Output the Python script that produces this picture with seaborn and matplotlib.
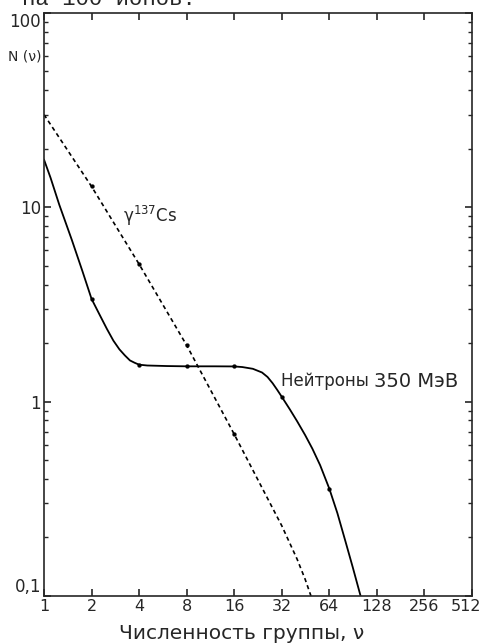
import numpy as np
import pandas as pd
import matplotlib
matplotlib.use('Agg')
import matplotlib.pyplot as plt
import matplotlib.transforms as mtrans
import seaborn as sns

### DATA ###

# neutrons 350 MeV (solid curve)
nu_n = [1, 1.1, 1.25, 1.5, 1.75, 2, 2.25, 2.5, 2.75, 3, 3.25, 3.5, 3.75, 4, 4.5, 6, 8, 12, 16,
	18, 21, 24, 26, 28, 30, 32, 36, 40, 45, 50, 56, 64, 72, 81, 90, 101]
N_n = [17.6, 14.2, 10.3, 6.8, 4.7, 3.38, 2.8, 2.37, 2.06, 1.86, 1.73, 1.63, 1.585, 1.55, 1.535, 1.525, 1.52, 1.52, 1.518,
	1.507, 1.476, 1.413, 1.34, 1.245, 1.148, 1.06, 0.913, 0.794, 0.673, 0.573, 0.471, 0.357, 0.267, 0.191, 0.141, 0.1]
pts_n = [2, 4, 8, 16, 32, 64]

# gamma 137Cs (dashed curve)
nu_g = [1, 2, 4, 8, 16, 32, 40, 45, 49]
N_g = [30, 12.8, 5.1, 1.95, 0.68, 0.23, 0.155, 0.122, 0.1]
pts_g = [2, 4, 8, 16]

x_ticks = [1, 2, 4, 8, 16, 32, 64, 128, 256, 512]
y_ticks = [0.1, 1, 10, 100]
y_labels = ['0,1', '1', '10', '100']

df_n = pd.DataFrame({'nu': nu_n, 'N': N_n})
df_g = pd.DataFrame({'nu': nu_g, 'N': N_g})

### PLOT ###

sns.set_style('ticks')
plt.rcParams['font.family'] = ['DejaVu Sans']

fig = plt.figure(figsize=(4.83, 6.43), dpi=100)
ax = fig.add_axes([0.0911, 0.0731, 0.886, 0.9067])

sns.lineplot(data=df_n, x='nu', y='N', ax=ax, color='black', lw=1.3)
sns.lineplot(data=df_g, x='nu', y='N', ax=ax, color='black', lw=1.2, linestyle=(0, (2.5, 2)))
sns.scatterplot(data=df_n[df_n['nu'].isin(pts_n)], x='nu', y='N', ax=ax, color='black', s=8, edgecolor=None)
sns.scatterplot(data=df_g[df_g['nu'].isin(pts_g)], x='nu', y='N', ax=ax, color='black', s=8, edgecolor=None)

ax.set_xscale('log', base=2)
ax.set_yscale('log')
ax.set_xlim(1, 512)
ax.set_ylim(0.1, 100)
ax.set_xticks(x_ticks)
ax.set_xticklabels([str(t) for t in x_ticks])
ax.xaxis.set_minor_locator(matplotlib.ticker.NullLocator())
ax.set_yticks(y_ticks)
ax.set_yticklabels(y_labels)

ax.tick_params(which='both', direction='in', top=True, right=True, labelsize=12, pad=2)
ax.tick_params(axis='x', labelsize=11.5)
ax.tick_params(which='major', length=5, width=1.2)
ax.tick_params(which='minor', length=3, width=1)
for s in ax.spines.values():
	s.set_linewidth(1.2)

# drafting style: end labels sit inside the frame
ylab = ax.get_yticklabels()
ylab[0].set_va('bottom')
ylab[-1].set_va('top')
last = ax.get_xticklabels()[-1]
last.set_transform(last.get_transform() + mtrans.ScaledTranslation(-6 / 100, 0, fig.dpi_scale_trans))

ax.set_xlabel('Численность группы, ν', fontsize=14.5)
ax.xaxis.set_label_coords((242 - 44) / 428, -0.048)
ax.set_ylabel('')
ax.text(-0.005, (596 - 57) / 583, 'N (ν)', transform=ax.transAxes, ha='right', va='center', fontsize=10)

ax.text(3.15, 9.0, 'γ$^{137}$Cs', fontsize=12, ha='left', va='center')
t1 = ax.text(31.5, 1.27, 'Нейтроны ', fontsize=12, ha='left', va='center')
ax.annotate('350 МэВ', xy=(1, 0.5), xycoords=t1, ha='left', va='center', fontsize=14)

fig.text(22 / 483, 0.9925, 'на 100 ионов.', family='Liberation Mono', fontsize=16, va='baseline')

fig.savefig('out.png', dpi=100)
